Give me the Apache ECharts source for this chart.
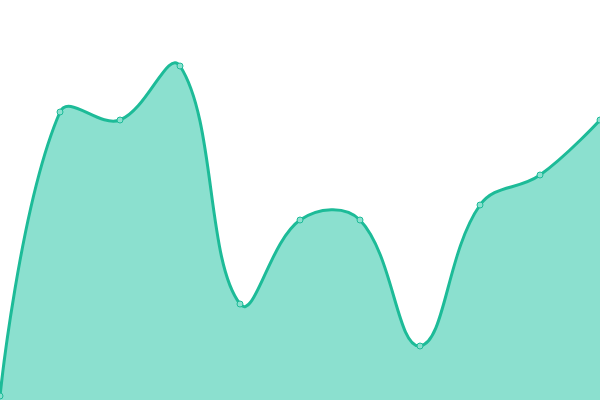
<!DOCTYPE html>
<html><head><meta charset="utf-8">
<script src="https://cdn.jsdelivr.net/npm/echarts@6/dist/echarts.min.js"></script>
<style>html,body{margin:0;padding:0;background:#fff}#c{width:600px;height:400px}</style>
</head><body><div id="c"></div>
<script>
const categories = ['1','2','3','4','5','6','7','8','9','10','11'];
const values = [4, 288, 280, 334, 96, 180, 180, 54, 195, 225, 280];
const SMOOTH = 0.4;
function controlPoints(pts, smooth) {
  const cps = [];
  const n = pts.length;
  for (let i = 0; i < n; i++) {
    const p = pts[i];
    if (i === 0 || i === n - 1) { cps.push([p[0], p[1]]); continue; }
    const a = pts[i - 1], b = pts[i + 1];
    const vx = (b[0] - a[0]) * smooth, vy = (b[1] - a[1]) * smooth;
    let d0 = Math.hypot(p[0] - a[0], p[1] - a[1]);
    let d1 = Math.hypot(p[0] - b[0], p[1] - b[1]);
    const s = d0 + d1;
    if (s) { d0 /= s; d1 /= s; }
    cps.push([p[0] - vx * d0, p[1] - vy * d0]);
    cps.push([p[0] + vx * d1, p[1] + vy * d1]);
  }
  return cps;
}
const chart = echarts.init(document.getElementById('c'));
chart.setOption({
  animation: false,
  grid: {left: 0, right: 0, top: 0, bottom: 0},
  xAxis: {type: 'category', data: categories, boundaryGap: false, show: false},
  yAxis: {type: 'value', min: 0, max: 400, show: false},
  series: [{
    type: 'custom',
    z: 1,
    data: values,
    clip: true,
    renderItem: function (params, api) {
      if (params.dataIndex !== 0) return {type: 'group', children: []};
      const pts = values.map((v, i) => api.coord([i, v]));
      const cps = controlPoints(pts, SMOOTH);
      let d = 'M' + pts[0][0] + ' ' + pts[0][1];
      for (let i = 0; i < pts.length - 1; i++) {
        const c1 = cps[i * 2], c2 = cps[i * 2 + 1], p = pts[i + 1];
        d += ' C' + c1[0] + ' ' + c1[1] + ' ' + c2[0] + ' ' + c2[1] + ' ' + p[0] + ' ' + p[1];
      }
      const base = api.coord([0, 0])[1];
      const last = pts[pts.length - 1];
      const area = d + ' L' + last[0] + ' ' + base + ' L' + pts[0][0] + ' ' + base + ' Z';
      return {
        type: 'group',
        children: [
          {type: 'path', shape: {pathData: area}, style: {fill: '#8be0cf', stroke: null}},
          {type: 'path', shape: {pathData: d}, style: {fill: null, stroke: '#1dbb98', lineWidth: 3}}
        ]
      };
    }
  }, {
    type: 'scatter',
    z: 3,
    data: values,
    symbol: 'circle',
    symbolSize: 6,
    itemStyle: {color: '#8be0cf', borderColor: '#1dbb98', borderWidth: 1, opacity: 1}
  }]
});
</script></body></html>
